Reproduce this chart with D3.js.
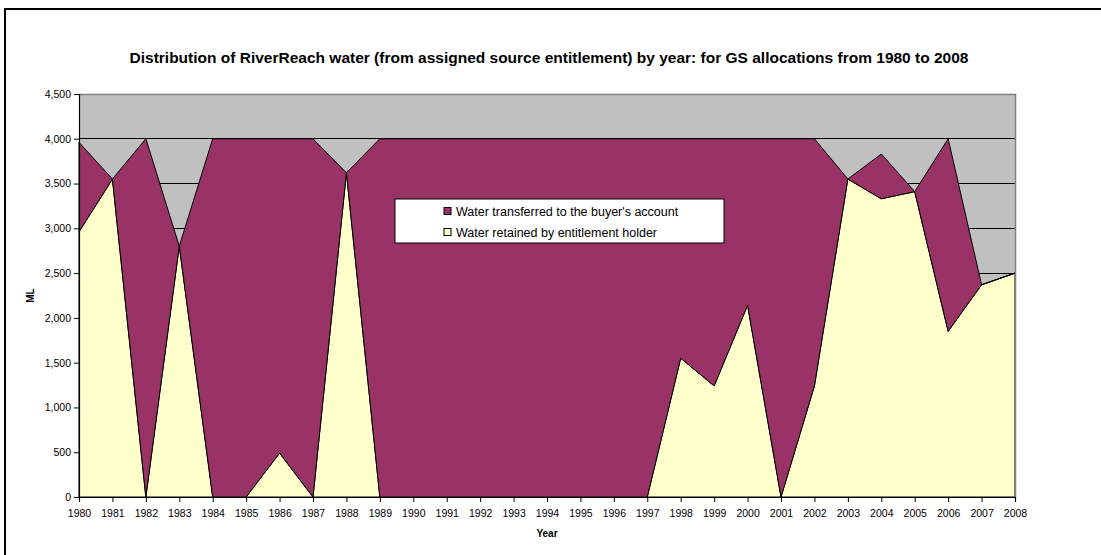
<!DOCTYPE html>
<html lang="en">
<head>
    <meta charset="UTF-8">
    <title>RiverReach water distribution</title>
    <script src="https://cdn.jsdelivr.net/npm/d3@7"></script>
    <style>
        body { margin: 0; background: #fff; overflow: hidden; }
        svg { display: block; }
        text { font-family: Arial, "Liberation Sans", sans-serif; }
    </style>
</head>
<body>
    <script>

        //data
        var years = [1980, 1981, 1982, 1983, 1984, 1985, 1986, 1987, 1988, 1989,
                     1990, 1991, 1992, 1993, 1994, 1995, 1996, 1997, 1998, 1999,
                     2000, 2001, 2002, 2003, 2004, 2005, 2006, 2007, 2008];
        var retained = [2960, 3550, 0, 2800, 0, 0, 490, 0, 3620, 0,
                        0, 0, 0, 0, 0, 0, 0, 0, 1550, 1240,
                        2140, 0, 1240, 3550, 3330, 3410, 1850, 2370, 2500];
        var transferred = [1000, 0, 4000, 0, 4000, 4000, 3510, 4000, 0, 4000,
                           4000, 4000, 4000, 4000, 4000, 4000, 4000, 4000, 2450, 2760,
                           1860, 4000, 2760, 0, 500, 0, 2150, 0, 0];
        var yTicks = [0, 500, 1000, 1500, 2000, 2500, 3000, 3500, 4000, 4500];
        var seriesNames = ["Water transferred to the buyer's account", 'Water retained by entitlement holder'];

        //width and height
        var w = 1101;
        var h = 555;
        var plot = {left: 79, right: 1015, top: 94, bottom: 497};

        var rows = years.map(function(y, i) {
            return {year: y, retained: retained[i], transferred: transferred[i]};
        });

        var svg = d3.select('body')
                    .append('svg')
                    .attr('width', w)
                    .attr('height', h);

        //outer frame, only left and top edges show
        svg.append('path')
            .attr('d', 'M5,' + h + 'V9H' + w)
            .attr('fill', 'none')
            .attr('stroke', '#000')
            .attr('stroke-width', 2);

        var x = d3.scaleLinear()
                  .domain([years[0], years[years.length - 1]])
                  .range([plot.left, plot.right]);
        var y = d3.scaleLinear()
                  .domain([0, 4500])
                  .range([plot.bottom, plot.top]);

        //plot background
        svg.append('rect')
            .attr('x', plot.left).attr('y', plot.top)
            .attr('width', plot.right - plot.left)
            .attr('height', plot.bottom - plot.top)
            .attr('fill', '#c0c0c0');

        //gridlines
        svg.selectAll('line.grid')
            .data(yTicks.slice(1, -1))
            .enter()
            .append('line')
            .attr('class', 'grid')
            .attr('x1', plot.left).attr('x2', plot.right)
            .attr('y1', function(d) { return y(d); })
            .attr('y2', function(d) { return y(d); })
            .attr('stroke', '#000')
            .attr('stroke-width', 1)
            .attr('shape-rendering', 'crispEdges');

        //stacked areas
        var stack = d3.stack().keys(['retained', 'transferred']);
        var layers = stack(rows);
        var colors = {retained: '#ffffcc', transferred: '#993366'};

        var area = d3.area()
                     .x(function(d) { return x(d.data.year); })
                     .y0(function(d) { return y(d[0]); })
                     .y1(function(d) { return y(d[1]); });

        svg.selectAll('path.layer')
            .data(layers)
            .enter()
            .append('path')
            .attr('class', 'layer')
            .attr('d', area)
            .attr('fill', function(d) { return colors[d.key]; })
            .attr('stroke', '#000')
            .attr('stroke-width', 1)
            .attr('stroke-linejoin', 'round');

        //plot border top and right
        svg.append('path')
            .attr('d', 'M' + plot.left + ',' + (plot.top + 0.5) + 'H' + (plot.right + 0.5) + 'V' + plot.bottom)
            .attr('fill', 'none')
            .attr('stroke', '#808080')
            .attr('stroke-width', 1.5);

        //axes
        var yAxis = d3.axisLeft(y)
                      .tickValues(yTicks)
                      .tickSize(5)
                      .tickPadding(3)
                      .tickFormat(d3.format(','));
        var gy = svg.append('g')
                    .attr('transform', 'translate(' + plot.left + ',0)')
                    .call(yAxis);

        var xAxis = d3.axisBottom(x)
                      .tickValues(years)
                      .tickSize(5)
                      .tickPadding(8)
                      .tickFormat(d3.format('d'));
        var gx = svg.append('g')
                    .attr('transform', 'translate(0,' + plot.bottom + ')')
                    .call(xAxis);

        [gx, gy].forEach(function(g) {
            g.select('.domain').attr('stroke', '#000').attr('stroke-width', 1.2);
            g.selectAll('.tick line').attr('stroke', '#000');
            g.selectAll('.tick text')
                .attr('font-family', 'Arial, "Liberation Sans", sans-serif')
                .attr('font-size', '10.5px')
                .attr('fill', '#000');
        });

        //title
        svg.append('text')
            .attr('x', 549).attr('y', 63)
            .attr('text-anchor', 'middle')
            .attr('font-size', '15.5px')
            .attr('font-weight', 'bold')
            .text('Distribution of RiverReach water (from assigned source entitlement) by year: for GS allocations from 1980 to 2008');

        //axis titles
        svg.append('text')
            .attr('transform', 'translate(34,' + ((plot.top + plot.bottom) / 2) + ') rotate(-90)')
            .attr('text-anchor', 'middle')
            .attr('font-size', '10px')
            .attr('font-weight', 'bold')
            .text('ML');
        svg.append('text')
            .attr('x', (plot.left + plot.right) / 2).attr('y', 537)
            .attr('text-anchor', 'middle')
            .attr('font-size', '10px')
            .attr('font-weight', 'bold')
            .text('Year');

        //legend
        var legend = svg.append('g').attr('transform', 'translate(395,199)');
        legend.append('rect')
            .attr('width', 329).attr('height', 44)
            .attr('fill', '#fff')
            .attr('stroke', '#000')
            .attr('stroke-width', 1);
        var legendColors = [colors.transferred, colors.retained];
        var items = legend.selectAll('g.item')
            .data(seriesNames)
            .enter()
            .append('g')
            .attr('class', 'item')
            .attr('transform', function(d, i) { return 'translate(49,' + (12 + i * 21) + ')'; });
        items.append('rect')
            .attr('x', 0).attr('y', -3.5)
            .attr('width', 7).attr('height', 7)
            .attr('fill', function(d, i) { return legendColors[i]; })
            .attr('stroke', '#000')
            .attr('stroke-width', 1);
        items.append('text')
            .attr('x', 12).attr('y', 4.5)
            .attr('font-size', '12.5px')
            .attr('fill', '#000')
            .text(function(d) { return d; });

    </script>
</body>
</html>
